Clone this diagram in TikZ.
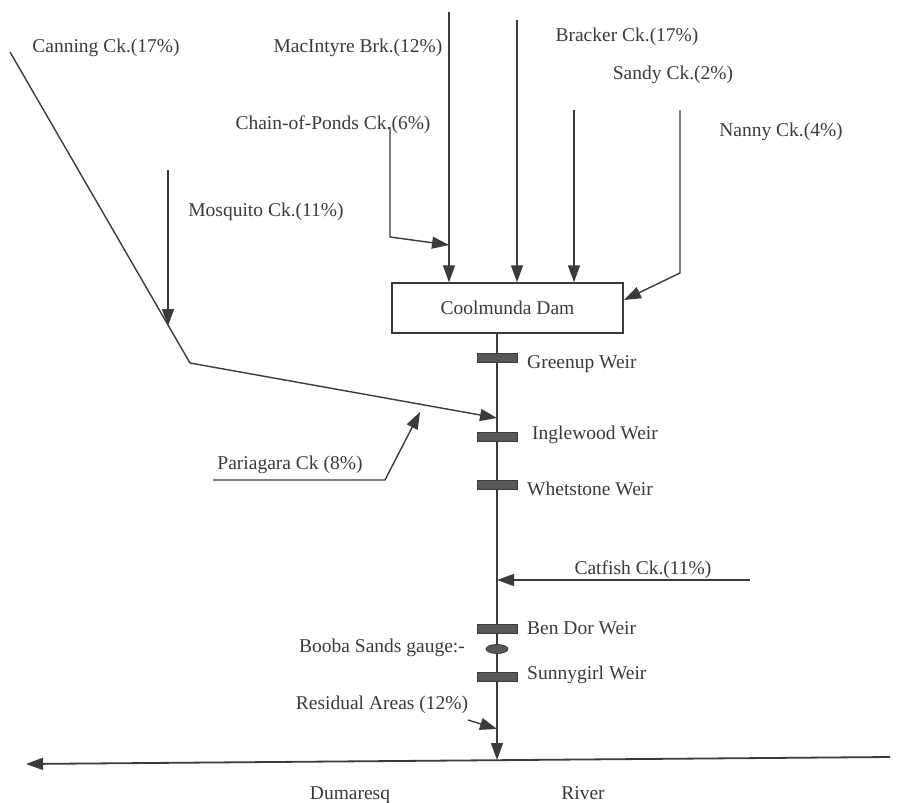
\documentclass[tikz,border=0pt]{standalone}
\usepackage{fontspec}
\setmainfont{Liberation Serif}
\usetikzlibrary{arrows.meta,shapes.geometric}
\definecolor{ink}{HTML}{3A3A3A}
\begin{document}
\begin{tikzpicture}[x=1pt,y=-1pt,
  flow/.style={draw=ink,line width=1.4pt,line join=round},
  arr/.style={flow,-{Triangle[length=17pt,width=12pt]}},
  lbl/.style={text=ink,font=\fontsize{19.5}{23}\selectfont,inner sep=0pt},
  weir/.style={draw=ink,fill=ink!85,line width=0.8pt,minimum width=40pt,minimum height=9pt,inner sep=0pt},
  dambox/.style={draw=ink,line width=1.4pt,minimum width=231pt,minimum height=50pt,inner sep=0pt,text=ink,font=\fontsize{19.5}{23}\selectfont}]
\useasboundingbox (0,0) rectangle (903,803);

% dam and main river line
\node[dambox] (dam) at (507.5,308) {Coolmunda Dam};
\coordinate (rx) at (497,760);
\draw[arr] (dam.south -| rx) -- (rx);

% weirs and gauge
\node[weir] (greenup) at (497,358) {};
\node[weir] (inglewood) at (497,437) {};
\node[weir] (whetstone) at (497,485) {};
\node[weir] (bendor) at (497,629) {};
\node[ellipse,draw=ink,fill=ink!85,line width=0.8pt,minimum width=22pt,minimum height=9pt,inner sep=0pt] (gauge) at (497,649) {};
\node[weir] (sunnygirl) at (497,677) {};

\node[lbl,anchor=west] (lgreenup) at (527,364) {Greenup Weir};
\node[lbl,anchor=west] (linglewood) at (532,435) {Inglewood Weir};
\node[lbl,anchor=west] (lwhetstone) at (527,489) {Whetstone Weir};
\node[lbl,anchor=west] (lbendor) at (527,628) {Ben Dor Weir};
\node[lbl,anchor=west] (lsunnygirl) at (527,675) {Sunnygirl Weir};
\node[lbl] (lgauge) at (382,648) {Booba Sands gauge:-};
\node[lbl] (lresid) at (382,705) {Residual Areas (12\%)};

% creek labels
\node[lbl] (lcanning) at (106,48) {Canning Ck.(17\%)};
\node[lbl] (lmacintyre) at (358,48) {MacIntyre Brk.(12\%)};
\node[lbl] (lchain) at (333,125) {Chain-of-Ponds Ck.(6\%)};
\node[lbl] (lmosquito) at (266,212) {Mosquito Ck.(11\%)};
\node[lbl] (lbracker) at (627,37) {Bracker Ck.(17\%)};
\node[lbl] (lsandy) at (673,75) {Sandy Ck.(2\%)};
\node[lbl] (lnanny) at (781,132) {Nanny Ck.(4\%)};
\node[lbl] (lpari) at (290,465) {Pariagara Ck (8\%)};
\node[lbl] (lcatfish) at (643,570) {Catfish Ck.(11\%)};
\node[lbl] (ldum) at (350,795) {Dumaresq};
\node[lbl] (lriver) at (583,793) {River};

% inflows into the dam
\coordinate (mac0) at (449,12);
\coordinate (brk0) at (517,20);
\coordinate (snd0) at (574,110);
\coordinate (nan0) at (680,110);
\coordinate (nan1) at (680,273);
\coordinate (nan2) at (624,300);
\coordinate (chn0) at (390,127);
\coordinate (chn1) at (390,237);
\coordinate (chn2) at (449,245);
\draw[arr] (mac0) -- (dam.north -| mac0);
\draw[arr] (brk0) -- (dam.north -| brk0);
\draw[arr] (snd0) -- (dam.north -| snd0);
\draw[arr] (nan0) -- (nan1) -- (nan2);
\draw[arr] (chn0) -- (chn1) -- (chn2);

% Canning and Mosquito
\coordinate (can0) at (10,52);
\coordinate (can1) at (190,363);
\coordinate (jc) at (497,418);
\coordinate (mos0) at (168,170);
\coordinate (mos1) at (168,326);
\draw[arr] (can0) -- (can1) -- (jc);
\draw[arr] (mos0) -- (mos1);

% Pariagara
\coordinate (par0) at (213,480);
\coordinate (par1) at (385,480);
\coordinate (par2) at (420,412);
\draw[arr] (par0) -- (par1) -- (par2);

% Catfish
\coordinate (cat0) at (750,580);
\draw[arr] (cat0) -- (cat0 -| rx);

% Residual areas
\coordinate (res0) at (468,720);
\coordinate (res1) at (497,729);
\draw[arr] (res0) -- (res1);

% Dumaresq River
\coordinate (dr0) at (890,757);
\coordinate (dr1) at (26,764);
\draw[arr,line width=1.8pt] (dr0) -- (dr1);
\end{tikzpicture}
\end{document}
